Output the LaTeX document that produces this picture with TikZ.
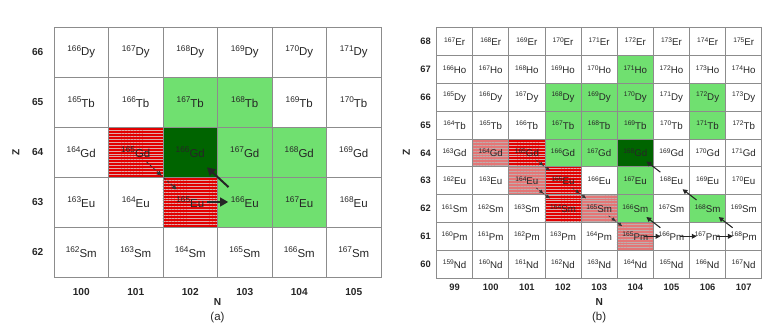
\documentclass[tikz,border=0pt]{standalone}
\usepackage{fontspec}
\setmainfont{Liberation Sans}
\usetikzlibrary{arrows.meta,backgrounds,patterns.meta,decorations.markings,calc}

\definecolor{lgreen}{RGB}{112,224,112}
\definecolor{dgreen}{RGB}{0,100,0}
\definecolor{hred}{RGB}{226,0,0}
\definecolor{hredline}{RGB}{222,170,170}
\definecolor{pred}{RGB}{228,118,118}
\definecolor{predline}{RGB}{192,172,172}
\definecolor{gridgray}{RGB}{140,140,140}

\newcommand{\nuca}[2]{\raisebox{3.3pt}{\fontsize{6.2}{6.2}\selectfont #1}#2}
\newcommand{\nucb}[2]{\raisebox{2.6pt}{\fontsize{5}{5}\selectfont #1}#2}

\begin{document}
\begin{tikzpicture}[x=0.75pt,y=0.75pt]
  \tikzstyle{cella}=[draw=gridgray, line width=0.6pt, minimum width=40.875pt, minimum height=37.5pt,
    inner sep=0pt, font=\fontsize{8.6}{10}\selectfont, text=black!85]
  \tikzstyle{cellb}=[draw=gridgray, line width=0.5pt, minimum width=27.11pt, minimum height=20.85pt,
    inner sep=0pt, font=\fontsize{7.3}{8}\selectfont, text=black!85]
  \tikzstyle{laba}=[font=\fontsize{7.6}{9}\selectfont\bfseries, text=black!85]
  \tikzstyle{labb}=[font=\fontsize{7}{8}\selectfont\bfseries, text=black!85]
  \tikzstyle{capt}=[font=\fontsize{8.6}{10}\selectfont, text=black!85]
  \tikzstyle{hatchd}=[pattern color=hredline, pattern={Lines[distance=2.2pt,line width=0.6pt]}]
  \tikzstyle{hatchl}=[pattern color=predline, pattern={Lines[distance=2.2pt,line width=0.6pt]}]
  \tikzstyle{capa}=[line width=1.5pt, black!85, -{Triangle[length=6pt,width=6.5pt]}]
  \tikzstyle{capb}=[line width=0.8pt, black!85, -{Triangle[length=3.6pt,width=3.6pt]}]
  \tikzstyle{feeda}=[line width=0.6pt, black!80, dash pattern=on 2pt off 1.5pt, postaction={decorate},
    decoration={markings,
      mark=at position 0.5 with {\arrow{Triangle[length=3.5pt,width=3.5pt]}},
      mark=at position 1 with {\arrow{Triangle[length=3.5pt,width=3.5pt]}}}]
  \tikzstyle{feedb}=[line width=0.5pt, black!80, dash pattern=on 1.6pt off 1.2pt, postaction={decorate},
    decoration={markings,
      mark=at position 0.5 with {\arrow{Triangle[length=2.6pt,width=2.6pt]}},
      mark=at position 1 with {\arrow{Triangle[length=2.6pt,width=2.6pt]}}}]

  \useasboundingbox (0,0) rectangle (763,327);

  % (a)
  \begin{scope}[shift={(54,50)}, x=40.875pt, y=37.5pt]
    \foreach \z/\el in {62/Sm,63/Eu,64/Gd,65/Tb,66/Dy} {
      \node[laba] (za\z) at (-0.3,\z-61.5) {\z};
      \foreach \n in {100,...,105} {
        \pgfmathtruncatemacro{\A}{\n+\z}
        \node[cella] (a\n-\z) at (\n-99.5,\z-61.5) {\nuca{\A}{\el}};
      }
    }
    \foreach \n in {100,...,105}
      \node[laba] (na\n) at (\n-99.5,-0.3) {\n};
    \node[laba] (Na) at (3,-0.5) {N};
    \node[capt] (capta) at (3,-0.82) {(a)};
    \node[laba, rotate=90] (Za) at (-0.7,2.5) {Z};
  \end{scope}

  % (b)
  \begin{scope}[shift={(436.5,49)}, x=27.11pt, y=20.85pt]
    \foreach \z/\el in {60/Nd,61/Pm,62/Sm,63/Eu,64/Gd,65/Tb,66/Dy,67/Ho,68/Er} {
      \node[labb] (zb\z) at (-0.3,\z-59.5) {\z};
      \foreach \n in {99,...,107} {
        \pgfmathtruncatemacro{\A}{\n+\z}
        \node[cellb] (b\n-\z) at (\n-98.5,\z-59.5) {\nucb{\A}{\el}};
      }
    }
    \foreach \n in {99,...,107}
      \node[labb] (nb\n) at (\n-98.5,-0.32) {\n};
    \node[laba] (Nb) at (4.5,-0.86) {N};
    \node[capt] (captb) at (4.5,-1.44) {(b)};
    \node[laba, rotate=90] (Zb) at (-0.83,4.5) {Z};
  \end{scope}

  % cell colours
  \begin{scope}[on background layer]
    \foreach \c in {a102-65,a103-65,a103-64,a104-64,a103-63,a104-63,
        b104-67,b102-66,b103-66,b104-66,b106-66,b102-65,b103-65,b104-65,b106-65,
        b102-64,b103-64,b104-63,b104-62,b106-62}
      \fill[lgreen] (\c.south west) rectangle (\c.north east);
    \foreach \c in {a102-64,b104-64}
      \fill[dgreen] (\c.south west) rectangle (\c.north east);
    \foreach \c in {a101-64,a102-63,b101-64,b102-63,b102-62} {
      \fill[hred] (\c.south west) rectangle (\c.north east);
      \path[hatchd] (\c.south west) rectangle (\c.north east);
    }
    \foreach \c in {b100-64,b101-63,b103-62,b104-61} {
      \fill[pred] (\c.south west) rectangle (\c.north east);
      \path[hatchl] (\c.south west) rectangle (\c.north east);
    }
  \end{scope}

  % arrows (a)
  \draw[feeda] ($(a101-64.center)!11pt!(a102-63.center)$) -- ($(a102-63.center)!14pt!(a101-64.center)$);
  \draw[capa, shorten <=12.75pt, shorten >=12.4pt] (a102-63.center) -- (a103-63.center);
  \draw[capa, shorten <=16.5pt, shorten >=17pt] (a103-63.center) -- (a102-64.center);

  % arrows (b)
  \foreach \s/\t in {b101-64/b102-63, b101-63/b102-62, b102-63/b103-62, b103-62/b104-61}
    \draw[feedb] ($(\s.center)!9pt!(\t.center)$) -- ($(\t.center)!12.75pt!(\s.center)$);
  \foreach \s/\t in {b104-61/b105-61, b105-61/b106-61, b106-61/b107-61}
    \draw[capb, shorten <=6.75pt, shorten >=8.25pt] (\s.center) -- (\t.center);
  \foreach \s/\t in {b105-61/b104-62, b107-61/b106-62, b106-62/b105-63, b105-63/b104-64}
    \draw[capb, shorten <=10.5pt, shorten >=10.5pt] (\s.center) -- (\t.center);
\end{tikzpicture}
\end{document}
